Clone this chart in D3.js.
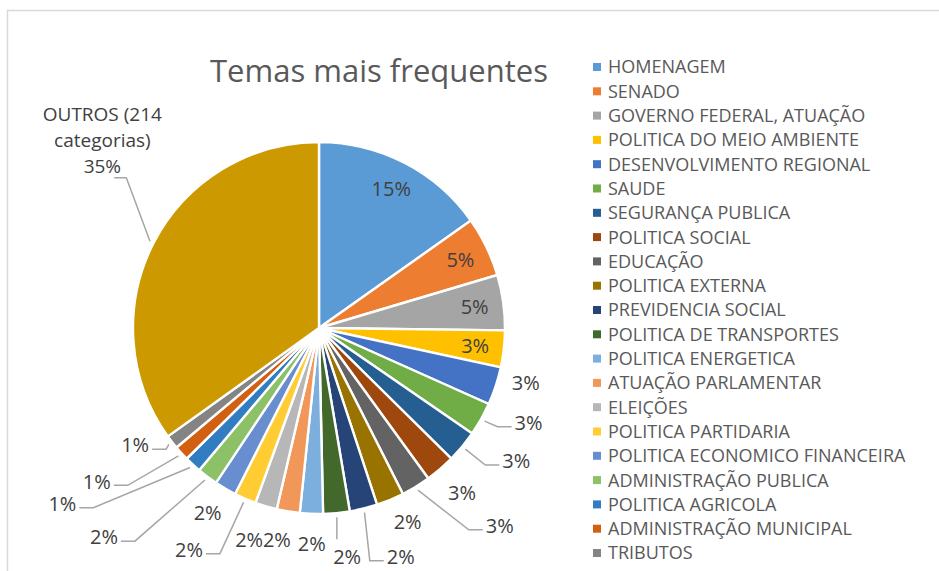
<!DOCTYPE html>
<html>
<head>
<meta charset="utf-8">
<script src="https://cdn.jsdelivr.net/npm/d3@7"></script>
<style>
  body { margin: 0; background: #fff; }
  svg { display: block; font-family: "Open Sans", sans-serif; }
</style>
</head>
<body>
<svg id="chart" width="939" height="571"></svg>
<script>
// share of speeches per theme (%)
var categories = [
  "HOMENAGEM", "SENADO", "GOVERNO FEDERAL, ATUAÇÃO", "POLITICA DO MEIO AMBIENTE",
  "DESENVOLVIMENTO REGIONAL", "SAUDE", "SEGURANÇA PUBLICA", "POLITICA SOCIAL",
  "EDUCAÇÃO", "POLITICA EXTERNA", "PREVIDENCIA SOCIAL", "POLITICA DE TRANSPORTES",
  "POLITICA ENERGETICA", "ATUAÇÃO PARLAMENTAR", "ELEIÇÕES", "POLITICA PARTIDARIA",
  "POLITICA ECONOMICO FINANCEIRA", "ADMINISTRAÇÃO PUBLICA", "POLITICA AGRICOLA",
  "ADMINISTRAÇÃO MUNICIPAL", "TRIBUTOS", "OUTROS (214 categorias)"
];
var values = [15.2, 5.2, 4.8, 3.2, 3.3, 2.9, 2.8, 2.6, 2.55, 2.4, 2.4, 2.3,
              2.0, 2.0, 1.9, 1.9, 1.9, 1.8, 1.45, 1.3, 1.2, 34.9];
var colors = ["#5B9BD5", "#ED7D31", "#A5A5A5", "#FFC000", "#4472C4", "#70AD47",
              "#255E91", "#9E480E", "#636363", "#997300", "#264478", "#43682B",
              "#7CAFDD", "#F1975A", "#B7B7B7", "#FFCD33", "#698ED0", "#8CC168",
              "#327DC2", "#D26012", "#848484", "#CC9A00"];
var chartTitle = "Temas mais frequentes";

// label placement for outside labels: [angle shift (deg), radius, leader line]
var labelLayout = {
  "DESENVOLVIMENTO REGIONAL": [-3.3, 214, false],
  "SAUDE": [-5.0, 230, true],
  "SEGURANÇA PUBLICA": [-5.6, 238, true],
  "POLITICA SOCIAL": [-0.3, 218, false],
  "EDUCAÇÃO": [-11.0, 268, true],
  "POLITICA EXTERNA": [-2.1, 213, false],
  "PREVIDENCIA SOCIAL": [-5.8, 243, true],
  "POLITICA DE TRANSPORTES": [-1.6, 231, true],
  "POLITICA ENERGETICA": [-0.4, 216, false],
  "ATUAÇÃO PARLAMENTAR": [1.7, 216, false],
  "ELEIÇÕES": [1.7, 223, false],
  "POLITICA PARTIDARIA": [7.0, 257, true],
  "POLITICA ECONOMICO FINANCEIRA": [0.8, 216, false],
  "ADMINISTRAÇÃO PUBLICA": [8.9, 300, true],
  "POLITICA AGRICOLA": [12.85, 311, true],
  "ADMINISTRAÇÃO MUNICIPAL": [7.7, 270, true],
  "TRIBUTOS": [5.3, 218, true],
  "OUTROS (214 categorias)": [13.8, 287, true]
};

var data = categories.map(function(c, i) { return {name: c, value: values[i]}; });
var total = d3.sum(values);

var svg = d3.select("#chart");
var cx = 319, cy = 328, R = 186;

// chart frame
svg.append("rect")
  .attr("x", 7.5).attr("y", 10.5)
  .attr("width", 960).attr("height", 600)
  .attr("fill", "none").attr("stroke", "#D9D9D9").attr("stroke-width", 1.5);

svg.append("text")
  .attr("x", 379).attr("y", 82)
  .attr("text-anchor", "middle")
  .attr("fill", "#595959")
  .style("font-size", "31px")
  .text(chartTitle);

var color = d3.scaleOrdinal(categories, colors);
var pie = d3.pie().sort(null).value(function(d) { return d.value; });
var arc = d3.arc().innerRadius(0).outerRadius(R);
var arcs = pie(data);

var g = svg.append("g").attr("transform", "translate(" + cx + "," + cy + ")");

g.selectAll("path.slice")
  .data(arcs)
  .enter().append("path")
  .attr("class", "slice")
  .attr("d", arc)
  .attr("fill", function(d) { return color(d.data.name); })
  .attr("stroke", "#fff")
  .attr("stroke-width", 2.4)
  .attr("stroke-linejoin", "miter");

function polar(a, r) { return [r * Math.sin(a), -r * Math.cos(a)]; }
function pct(d) { return Math.round(d.data.value / total * 100) + "%"; }

var labels = g.append("g").attr("fill", "#404040").style("font-size", "20px");
var leaders = g.insert("g", "g").attr("fill", "none")
  .attr("stroke", "#A6A6A6").attr("stroke-width", 1.5);

arcs.forEach(function(d) {
  var mid = (d.startAngle + d.endAngle) / 2;
  var lay = labelLayout[d.data.name];
  if (!lay) {
    // big slices: label inside
    var p = polar(mid, R * 0.845);
    labels.append("text")
      .attr("x", p[0]).attr("y", p[1]).attr("dy", "0.36em")
      .attr("text-anchor", "middle")
      .text(pct(d));
    return;
  }
  var a = mid + lay[0] * Math.PI / 180;
  var p = polar(a, lay[1]);
  var outros = d.data.name.indexOf("OUTROS") === 0;
  var lines = outros ? ["OUTROS (214", "categorias)", pct(d)] : [pct(d)];
  var lh = 26;
  var t = labels.append("text").attr("text-anchor", "middle");
  if (outros) t.style("font-size", "19px");
  lines.forEach(function(s, i) {
    t.append("tspan")
      .attr("x", p[0])
      .attr("y", p[1] + (i - (lines.length - 1) / 2) * lh)
      .attr("dy", "0.36em")
      .text(s);
  });
  if (!lay[2]) return;

  var w = t.node().lastChild.getComputedTextLength();
  var lastY = p[1] + (lines.length - 1) / 2 * lh;
  var s0 = polar(mid, R + 4);
  var pts;
  if (lines.length > 1) {
    var e = [p[0] + 12, lastY + 12];
    pts = [s0, [e[0] + 12, e[1]], e];
  } else if (s0[0] > p[0] - w / 2 && s0[0] < p[0] + w / 2) {
    pts = [s0, [s0[0], p[1] - 18]];
  } else if (p[0] > s0[0]) {
    var e = [p[0] - w / 2 - 3, p[1] + 4];
    pts = [s0, [e[0] - 14, e[1]], e];
  } else {
    var e = [p[0] + w / 2 + 3, p[1] + 4];
    pts = [s0, [e[0] + 14, e[1]], e];
  }
  leaders.append("path").attr("d", d3.line()(pts));
});

// legend (all named themes, OUTROS left out)
var legendItems = categories.slice(0, categories.length - 1);
var ly = d3.scalePoint().domain(legendItems).range([67, 553]);
var legend = svg.append("g").style("font-size", "18px").attr("fill", "#595959");
var item = legend.selectAll("g")
  .data(legendItems)
  .enter().append("g")
  .attr("transform", function(d) { return "translate(593," + ly(d) + ")"; });
item.append("rect")
  .attr("x", 0).attr("y", -4).attr("width", 8).attr("height", 8)
  .attr("fill", function(d) { return color(d); });
item.append("text")
  .attr("x", 15).attr("dy", "0.36em")
  .text(function(d) { return d; });
</script>
</body>
</html>
